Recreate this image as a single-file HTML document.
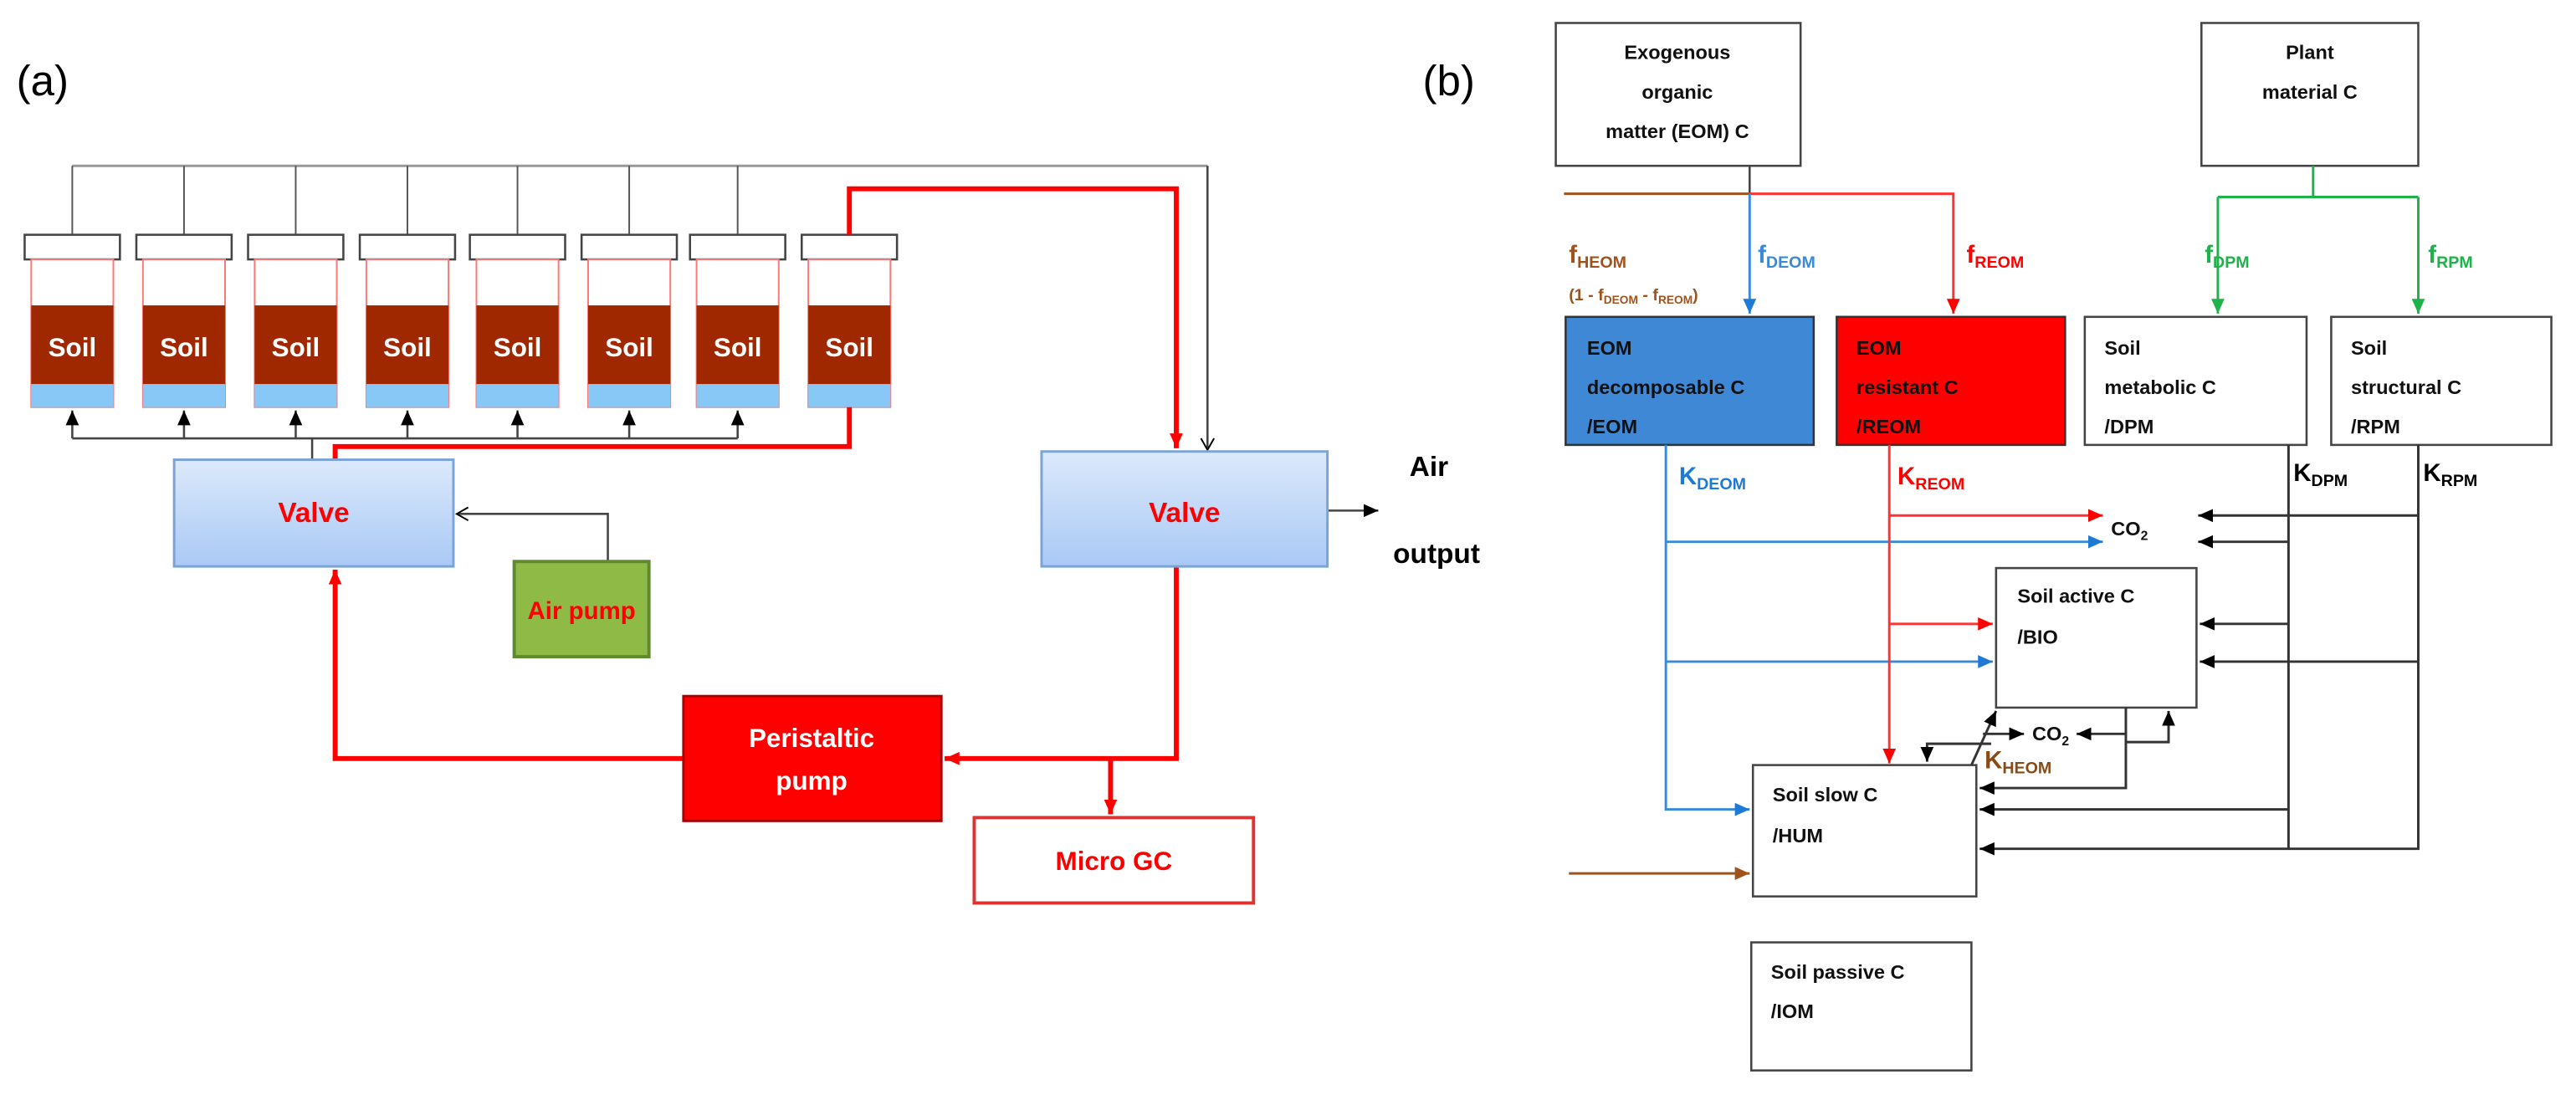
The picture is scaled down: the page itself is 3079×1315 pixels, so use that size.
<!DOCTYPE html>
<html><head><meta charset="utf-8"><style>html,body{margin:0;padding:0;background:#fff}svg{display:block}</style></head>
<body>
<svg width="3079" height="1315" viewBox="0 0 1568 670" preserveAspectRatio="none" xmlns="http://www.w3.org/2000/svg" font-family="Liberation Sans, sans-serif">
<defs>
<linearGradient id="vg" x1="0" y1="0" x2="0" y2="1"><stop offset="0" stop-color="#dce9fb"/><stop offset="1" stop-color="#a9c9f5"/></linearGradient>
<marker id="ak" markerUnits="userSpaceOnUse" markerWidth="10" markerHeight="10" refX="9" refY="5" orient="auto"><path d="M0,1 L9,5 L0,9 Z" fill="#000"/></marker>
<marker id="ar" markerUnits="userSpaceOnUse" markerWidth="10" markerHeight="10" refX="9" refY="5" orient="auto"><path d="M0,1 L9,5 L0,9 Z" fill="#f00"/></marker>
<marker id="ab" markerUnits="userSpaceOnUse" markerWidth="10" markerHeight="10" refX="9" refY="5" orient="auto"><path d="M0,1 L9,5 L0,9 Z" fill="#1f7ad6"/></marker>
<marker id="ag" markerUnits="userSpaceOnUse" markerWidth="10" markerHeight="10" refX="9" refY="5" orient="auto"><path d="M0,1 L9,5 L0,9 Z" fill="#1db34a"/></marker>
<marker id="an" markerUnits="userSpaceOnUse" markerWidth="10" markerHeight="10" refX="9" refY="5" orient="auto"><path d="M0,1 L9,5 L0,9 Z" fill="#a0521d"/></marker>
<marker id="ao" markerUnits="userSpaceOnUse" markerWidth="10" markerHeight="10" refX="8" refY="5" orient="auto"><path d="M1,1 L8,5 L1,9" fill="none" stroke="#000" stroke-width="1"/></marker>
</defs>

<!-- (a) -->
<text x="10" y="58" font-size="26">(a)</text>
<g stroke="#555" stroke-width="1" fill="none">
<line x1="44" y1="101" x2="735" y2="101" stroke="#999" stroke-width="1.5"/>
<line x1="44" y1="101" x2="44" y2="143"/><line x1="112" y1="101" x2="112" y2="143"/><line x1="180" y1="101" x2="180" y2="143"/><line x1="248" y1="101" x2="248" y2="143"/><line x1="315" y1="101" x2="315" y2="143"/><line x1="383" y1="101" x2="383" y2="143"/><line x1="449" y1="101" x2="449" y2="143"/>
</g>
<g id="tubes">
<g><rect x="15" y="143" width="58" height="15" fill="#fff" stroke="#444" stroke-width="1.3"/><rect x="19" y="158" width="50" height="90" fill="#fff" stroke="#f77" stroke-width="1"/><rect x="19" y="186" width="50" height="48" fill="#a02800"/><rect x="19" y="234" width="50" height="14" fill="#88c8f7"/><text x="44" y="217" font-size="16" font-weight="bold" fill="#fff" text-anchor="middle">Soil</text></g>
<g><rect x="83" y="143" width="58" height="15" fill="#fff" stroke="#444" stroke-width="1.3"/><rect x="87" y="158" width="50" height="90" fill="#fff" stroke="#f77" stroke-width="1"/><rect x="87" y="186" width="50" height="48" fill="#a02800"/><rect x="87" y="234" width="50" height="14" fill="#88c8f7"/><text x="112" y="217" font-size="16" font-weight="bold" fill="#fff" text-anchor="middle">Soil</text></g>
<g><rect x="151" y="143" width="58" height="15" fill="#fff" stroke="#444" stroke-width="1.3"/><rect x="155" y="158" width="50" height="90" fill="#fff" stroke="#f77" stroke-width="1"/><rect x="155" y="186" width="50" height="48" fill="#a02800"/><rect x="155" y="234" width="50" height="14" fill="#88c8f7"/><text x="180" y="217" font-size="16" font-weight="bold" fill="#fff" text-anchor="middle">Soil</text></g>
<g><rect x="219" y="143" width="58" height="15" fill="#fff" stroke="#444" stroke-width="1.3"/><rect x="223" y="158" width="50" height="90" fill="#fff" stroke="#f77" stroke-width="1"/><rect x="223" y="186" width="50" height="48" fill="#a02800"/><rect x="223" y="234" width="50" height="14" fill="#88c8f7"/><text x="248" y="217" font-size="16" font-weight="bold" fill="#fff" text-anchor="middle">Soil</text></g>
<g><rect x="286" y="143" width="58" height="15" fill="#fff" stroke="#444" stroke-width="1.3"/><rect x="290" y="158" width="50" height="90" fill="#fff" stroke="#f77" stroke-width="1"/><rect x="290" y="186" width="50" height="48" fill="#a02800"/><rect x="290" y="234" width="50" height="14" fill="#88c8f7"/><text x="315" y="217" font-size="16" font-weight="bold" fill="#fff" text-anchor="middle">Soil</text></g>
<g><rect x="354" y="143" width="58" height="15" fill="#fff" stroke="#444" stroke-width="1.3"/><rect x="358" y="158" width="50" height="90" fill="#fff" stroke="#f77" stroke-width="1"/><rect x="358" y="186" width="50" height="48" fill="#a02800"/><rect x="358" y="234" width="50" height="14" fill="#88c8f7"/><text x="383" y="217" font-size="16" font-weight="bold" fill="#fff" text-anchor="middle">Soil</text></g>
<g><rect x="420" y="143" width="58" height="15" fill="#fff" stroke="#444" stroke-width="1.3"/><rect x="424" y="158" width="50" height="90" fill="#fff" stroke="#f77" stroke-width="1"/><rect x="424" y="186" width="50" height="48" fill="#a02800"/><rect x="424" y="234" width="50" height="14" fill="#88c8f7"/><text x="449" y="217" font-size="16" font-weight="bold" fill="#fff" text-anchor="middle">Soil</text></g>
<g><rect x="488" y="143" width="58" height="15" fill="#fff" stroke="#444" stroke-width="1.3"/><rect x="492" y="158" width="50" height="90" fill="#fff" stroke="#f77" stroke-width="1"/><rect x="492" y="186" width="50" height="48" fill="#a02800"/><rect x="492" y="234" width="50" height="14" fill="#88c8f7"/><text x="517" y="217" font-size="16" font-weight="bold" fill="#fff" text-anchor="middle">Soil</text></g>
</g>
<g stroke="#444" stroke-width="1.3" fill="none">
<line x1="44" y1="267" x2="449" y2="267"/>
<line x1="44" y1="267" x2="44" y2="250" marker-end="url(#ak)"/><line x1="112" y1="267" x2="112" y2="250" marker-end="url(#ak)"/><line x1="180" y1="267" x2="180" y2="250" marker-end="url(#ak)"/><line x1="248" y1="267" x2="248" y2="250" marker-end="url(#ak)"/><line x1="315" y1="267" x2="315" y2="250" marker-end="url(#ak)"/><line x1="383" y1="267" x2="383" y2="250" marker-end="url(#ak)"/><line x1="449" y1="267" x2="449" y2="250" marker-end="url(#ak)"/>
<line x1="190" y1="267" x2="190" y2="280"/>
<line x1="735" y1="101" x2="735" y2="274" marker-end="url(#ao)"/>
<polyline points="370,342 370,313 278,313" marker-end="url(#ao)"/>
<line x1="808" y1="311" x2="839" y2="311" marker-end="url(#ak)"/>
</g>
<g stroke="#f00" stroke-width="3" fill="none">
<polyline points="517,248 517,272 204,272 204,280"/>
<polyline points="517,143 517,115 716,115 716,273" marker-end="url(#ar)"/>
<polyline points="716,345 716,462 575,462" marker-end="url(#ar)"/>
<line x1="676" y1="462" x2="676" y2="496" marker-end="url(#ar)"/>
<polyline points="416,462 204,462 204,347" marker-end="url(#ar)"/>
</g>
<rect x="106" y="280" width="170" height="65" fill="url(#vg)" stroke="#7aa3d8" stroke-width="1.5"/>
<text x="191" y="318" font-size="17" font-weight="bold" fill="#f00" text-anchor="middle">Valve</text>
<rect x="634" y="275" width="174" height="70" fill="url(#vg)" stroke="#7aa3d8" stroke-width="1.5"/>
<text x="721" y="318" font-size="17" font-weight="bold" fill="#f00" text-anchor="middle">Valve</text>
<rect x="313" y="342" width="82" height="58" fill="#8fba45" stroke="#5f8a30" stroke-width="2"/>
<text x="354" y="377" font-size="15" font-weight="bold" fill="#f00" text-anchor="middle">Air pump</text>
<rect x="416" y="424" width="157" height="76" fill="#f00" stroke="#a00" stroke-width="1.5"/>
<text x="494" y="455" font-size="16" font-weight="bold" fill="#fff" text-anchor="middle">Peristaltic</text>
<text x="494" y="481" font-size="16" font-weight="bold" fill="#fff" text-anchor="middle">pump</text>
<rect x="593" y="498" width="170" height="52" fill="#fff" stroke="#d33" stroke-width="2"/>
<text x="678" y="530" font-size="16" font-weight="bold" fill="#f00" text-anchor="middle">Micro GC</text>
<text x="858" y="290" font-size="17" font-weight="bold">Air</text>
<text x="848" y="343" font-size="17" font-weight="bold">output</text>

<!-- (b) -->
<text x="866" y="58" font-size="26">(b)</text>
<g font-size="12" font-weight="bold" fill="#111">
<rect x="947" y="14" width="149" height="87" fill="#fff" stroke="#444" stroke-width="1.3"/>
<text x="1021" y="36" text-anchor="middle">Exogenous</text><text x="1021" y="60" text-anchor="middle">organic</text><text x="1021" y="84" text-anchor="middle">matter (EOM) C</text>
<rect x="1340" y="14" width="132" height="87" fill="#fff" stroke="#444" stroke-width="1.3"/>
<text x="1406" y="36" text-anchor="middle">Plant</text><text x="1406" y="60" text-anchor="middle">material C</text>
<rect x="953" y="193" width="151" height="78" fill="#3f88d6" stroke="#333" stroke-width="1.3"/>
<text x="966" y="216">EOM</text><text x="966" y="240">decomposable C</text><text x="966" y="264">/EOM</text>
<rect x="1118" y="193" width="139" height="78" fill="#f00" stroke="#333" stroke-width="1.3"/>
<text x="1130" y="216">EOM</text><text x="1130" y="240">resistant C</text><text x="1130" y="264">/REOM</text>
<rect x="1269" y="193" width="135" height="78" fill="#fff" stroke="#444" stroke-width="1.3"/>
<text x="1281" y="216">Soil</text><text x="1281" y="240">metabolic C</text><text x="1281" y="264">/DPM</text>
<rect x="1419" y="193" width="134" height="78" fill="#fff" stroke="#444" stroke-width="1.3"/>
<text x="1431" y="216">Soil</text><text x="1431" y="240">structural C</text><text x="1431" y="264">/RPM</text>
<rect x="1215" y="346" width="122" height="85" fill="#fff" stroke="#444" stroke-width="1.3"/>
<text x="1228" y="367">Soil active C</text><text x="1228" y="392">/BIO</text>
<rect x="1067" y="466" width="136" height="80" fill="#fff" stroke="#444" stroke-width="1.3"/>
<text x="1079" y="488">Soil slow C</text><text x="1079" y="513">/HUM</text>
<rect x="1066" y="574" width="134" height="78" fill="#fff" stroke="#444" stroke-width="1.3"/>
<text x="1078" y="596">Soil passive C</text><text x="1078" y="620">/IOM</text>
<text x="1285" y="326">CO<tspan font-size="8" dy="3">2</tspan></text>
<text x="1237" y="451">CO<tspan font-size="8" dy="3">2</tspan></text>
</g>
<!-- connectors b -->
<line x1="1065" y1="101" x2="1065" y2="118" stroke="#444" stroke-width="1.3"/>
<line x1="952" y1="118" x2="1065" y2="118" stroke="#a0521d" stroke-width="1.5"/>
<polyline points="1065,118 1189,118 1189,191" fill="none" stroke="#f33" stroke-width="1.5" marker-end="url(#ar)"/>
<line x1="1065" y1="118" x2="1065" y2="191" stroke="#3a8ad8" stroke-width="1.5" marker-end="url(#ab)"/>
<polyline points="1408,101 1408,120" fill="none" stroke="#1db34a" stroke-width="1.5"/>
<polyline points="1350,120 1472,120" fill="none" stroke="#1db34a" stroke-width="1.5"/>
<line x1="1350" y1="120" x2="1350" y2="191" stroke="#1db34a" stroke-width="1.5" marker-end="url(#ag)"/>
<line x1="1472" y1="120" x2="1472" y2="191" stroke="#1db34a" stroke-width="1.5" marker-end="url(#ag)"/>
<g font-size="15" font-weight="bold">
<text x="955" y="160" fill="#a0521d">f<tspan font-size="10" dy="3">HEOM</tspan></text>
<text x="955" y="183" fill="#a0521d" font-size="10">(1 - f<tspan font-size="7" dy="2">DEOM</tspan><tspan dy="-2"> - f</tspan><tspan font-size="7" dy="2">REOM</tspan><tspan dy="-2">)</tspan></text>
<text x="1070" y="160" fill="#3a8ad8">f<tspan font-size="10" dy="3">DEOM</tspan></text>
<text x="1197" y="160" fill="#f00">f<tspan font-size="10" dy="3">REOM</tspan></text>
<text x="1342" y="160" fill="#1db34a">f<tspan font-size="10" dy="3">DPM</tspan></text>
<text x="1478" y="160" fill="#1db34a">f<tspan font-size="10" dy="3">RPM</tspan></text>
<text x="1022" y="295" fill="#1f7ad6">K<tspan font-size="10" dy="3">DEOM</tspan></text>
<text x="1155" y="295" fill="#f00">K<tspan font-size="10" dy="3">REOM</tspan></text>
<text x="1396" y="293" fill="#000">K<tspan font-size="10" dy="3">DPM</tspan></text>
<text x="1475" y="293" fill="#000">K<tspan font-size="10" dy="3">RPM</tspan></text>
<text x="1208" y="468" fill="#8a4a14">K<tspan font-size="10" dy="3">HEOM</tspan></text>
</g>
<g fill="none" stroke-width="1.5">
<g stroke="#3a8ad8">
<polyline points="1014,271 1014,493 1065,493" marker-end="url(#ab)"/>
<line x1="1014" y1="330" x2="1280" y2="330" marker-end="url(#ab)"/>
<line x1="1014" y1="403" x2="1213" y2="403" marker-end="url(#ab)"/>
</g>
<g stroke="#f33">
<line x1="1150" y1="271" x2="1150" y2="465" marker-end="url(#ar)"/>
<line x1="1150" y1="314" x2="1280" y2="314" marker-end="url(#ar)"/>
<line x1="1150" y1="380" x2="1213" y2="380" marker-end="url(#ar)"/>
</g>
<g stroke="#333">
<polyline points="1393,271 1393,517"/>
<polyline points="1472,271 1472,517 1205,517" marker-end="url(#ak)"/>
<line x1="1472" y1="314" x2="1338" y2="314" marker-end="url(#ak)"/>
<line x1="1393" y1="330" x2="1338" y2="330" marker-end="url(#ak)"/>
<line x1="1393" y1="380" x2="1339" y2="380" marker-end="url(#ak)"/>
<line x1="1472" y1="403" x2="1339" y2="403" marker-end="url(#ak)"/>
<line x1="1393" y1="493" x2="1205" y2="493" marker-end="url(#ak)"/>
<polyline points="1294,431 1294,480 1205,480" marker-end="url(#ak)"/>
<line x1="1294" y1="447" x2="1264" y2="447" marker-end="url(#ak)"/>
<polyline points="1294,452 1320,452 1320,433" marker-end="url(#ak)"/>
<line x1="1200" y1="466" x2="1215" y2="433" marker-end="url(#ak)"/>
<line x1="1207" y1="447" x2="1232" y2="447" marker-end="url(#ak)"/>
<polyline points="1212,453 1173,453 1173,464" marker-end="url(#ak)"/>
</g>
<line x1="955" y1="532" x2="1065" y2="532" stroke="#a0521d" marker-end="url(#an)"/>
</g>
</svg>
</body></html>
